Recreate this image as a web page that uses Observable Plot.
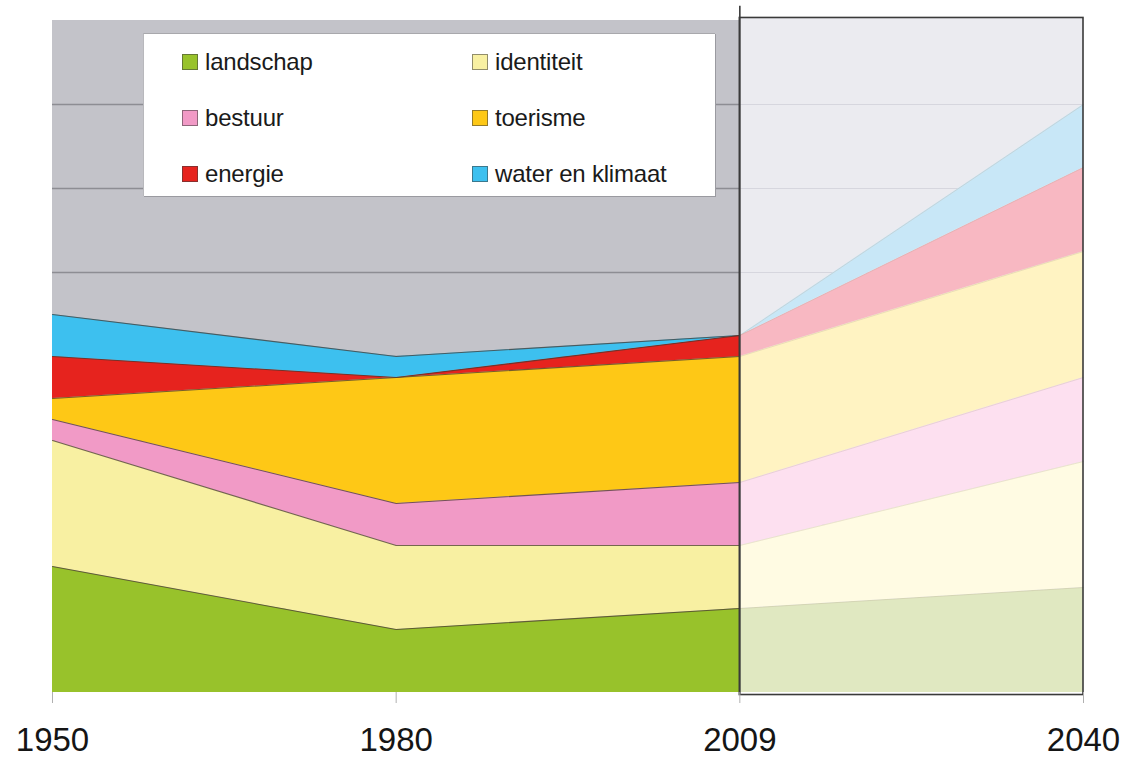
<!DOCTYPE html>
<html>
<head>
<meta charset="utf-8">
<script src="https://cdn.jsdelivr.net/npm/d3@7"></script>
<script src="https://cdn.jsdelivr.net/npm/@observablehq/plot@0.6"></script>
<style>
  body { margin: 0; background: #fff; font-family: "Liberation Sans", Arial, sans-serif; }
  #wrap { position: relative; width: 1135px; height: 758px; }
  #legend { position: absolute; left: 143px; top: 33px; width: 571px; height: 162px; background: #fff;
            border-top: 1px solid #a8a8ac; border-left: 1px solid #b8b8bc; box-shadow: 1px 1px 0 #9a9aa0; }
  .item { position: absolute; display: flex; align-items: center; height: 24px; font-size: 24px; color: #1a1a1a; letter-spacing: -0.2px; }
  .sw { width: 16px; height: 16px; border: 1px solid rgba(60,60,60,0.55); margin-right: 7px; box-sizing: border-box; }
</style>
</head>
<body>
<div id="wrap"><div id="chart"></div><div id="legend"></div></div>
<script>
// ---- data ----
const years = ["1950", "1980", "2009", "2040"];
const series = ["landschap", "identiteit", "bestuur", "toerisme", "energie", "water en klimaat"];
const landschap  = [1.5, 0.75, 1.0, 1.25];
const identiteit = [1.5, 1.0, 0.75, 1.5];
const bestuur    = [0.25, 0.5, 0.75, 1.0];
const toerisme   = [0.25, 1.5, 1.5, 1.5];
const energie    = [0.5, 0, 0.25, 1.0];
const water      = [0.5, 0.25, 0, 0.75];
const seriesValues = [landschap, identiteit, bestuur, toerisme, energie, water];
const colors      = ["#98c22b", "#f8f0a2", "#f19ac6", "#fec816", "#e6231e", "#3dc0ef"];
const fadedColors = ["#e0e8c1", "#fffbe3", "#fde0f0", "#fff3c2", "#f8b8c2", "#c8e7f7"];
const gridValues = [1, 2, 3, 4, 5, 6, 7];
// legend layout: column / row of each series
const legendCol = [0, 1, 0, 1, 0, 1];
const legendRow = [0, 0, 1, 1, 2, 2];

const futureKey = s => s + " (2040)";
const past = [], future = [];
for (let i = 0; i < years.length; i++) {
  series.forEach((s, k) => {
    if (i <= 2) past.push({i, key: s, v: seriesValues[k][i]});
    if (i >= 2) future.push({i, key: futureKey(s), v: seriesValues[k][i]});
  });
}

const chart = Plot.plot({
  width: 1135,
  height: 758,
  marginLeft: 52,
  marginRight: 52,
  marginTop: 20,
  marginBottom: 66,
  style: {fontFamily: "'Liberation Sans', Arial, sans-serif", background: "#fff"},
  x: {domain: [0, 3], axis: null, label: null},
  y: {domain: [0, 8], axis: null, label: null},
  color: {domain: [...series, ...series.map(futureKey)], range: [...colors, ...fadedColors]},
  marks: [
    Plot.rect([0], {x1: 0, x2: 2, y1: 0, y2: 8, fill: "#c3c3c9"}),
    Plot.rect([0], {x1: 2, x2: 3, y1: 0, y2: 8.03, fill: "#ebebf0"}),
    Plot.ruleY(gridValues, {x1: 0, x2: 2, stroke: "#8d8d93", strokeWidth: 1.5}),
    Plot.ruleY(gridValues, {x1: 2, x2: 3, stroke: "#d6d6de", strokeWidth: 1.2}),
    Plot.areaY(past, {x: "i", y: "v", z: "key", fill: "key"}),
    Plot.lineY(past, Plot.stackY2({x: "i", y: "v", z: "key", stroke: "#4a3a32", strokeWidth: 1.1, strokeOpacity: 0.75})),
    Plot.areaY(future, {x: "i", y: "v", z: "key", fill: "key"}),
    Plot.lineY(future, Plot.stackY2({x: "i", y: "v", z: "key", stroke: "#b8a898", strokeWidth: 1, strokeOpacity: 0.3})),
    Plot.rect([0], {x1: 2, x2: 3, y1: -0.03, y2: 8.03, fill: "none", stroke: "#3a3a3a", strokeWidth: 1.6}),
    Plot.ruleX([2], {y1: -0.03, y2: 8.17, stroke: "#3a3a3a", strokeWidth: 1.6}),
    Plot.axisX({ticks: [0, 1, 2, 3], tickFormat: i => years[i], tickSize: 11, tickPadding: 24,
                fontSize: 33, stroke: "#b0b0b0", fill: "#151515", label: null})
  ]
});
document.getElementById("chart").appendChild(chart);

// legend
const legend = document.getElementById("legend");
const colX = [38, 328];
const rowY = [16, 72, 128];
series.forEach((s, k) => {
  const it = document.createElement("div");
  it.className = "item";
  it.style.left = colX[legendCol[k]] + "px";
  it.style.top = rowY[legendRow[k]] + "px";
  const sw = document.createElement("div");
  sw.className = "sw";
  sw.style.background = colors[k];
  const tx = document.createElement("span");
  tx.textContent = s;
  it.appendChild(sw);
  it.appendChild(tx);
  legend.appendChild(it);
});
</script>
</body>
</html>
